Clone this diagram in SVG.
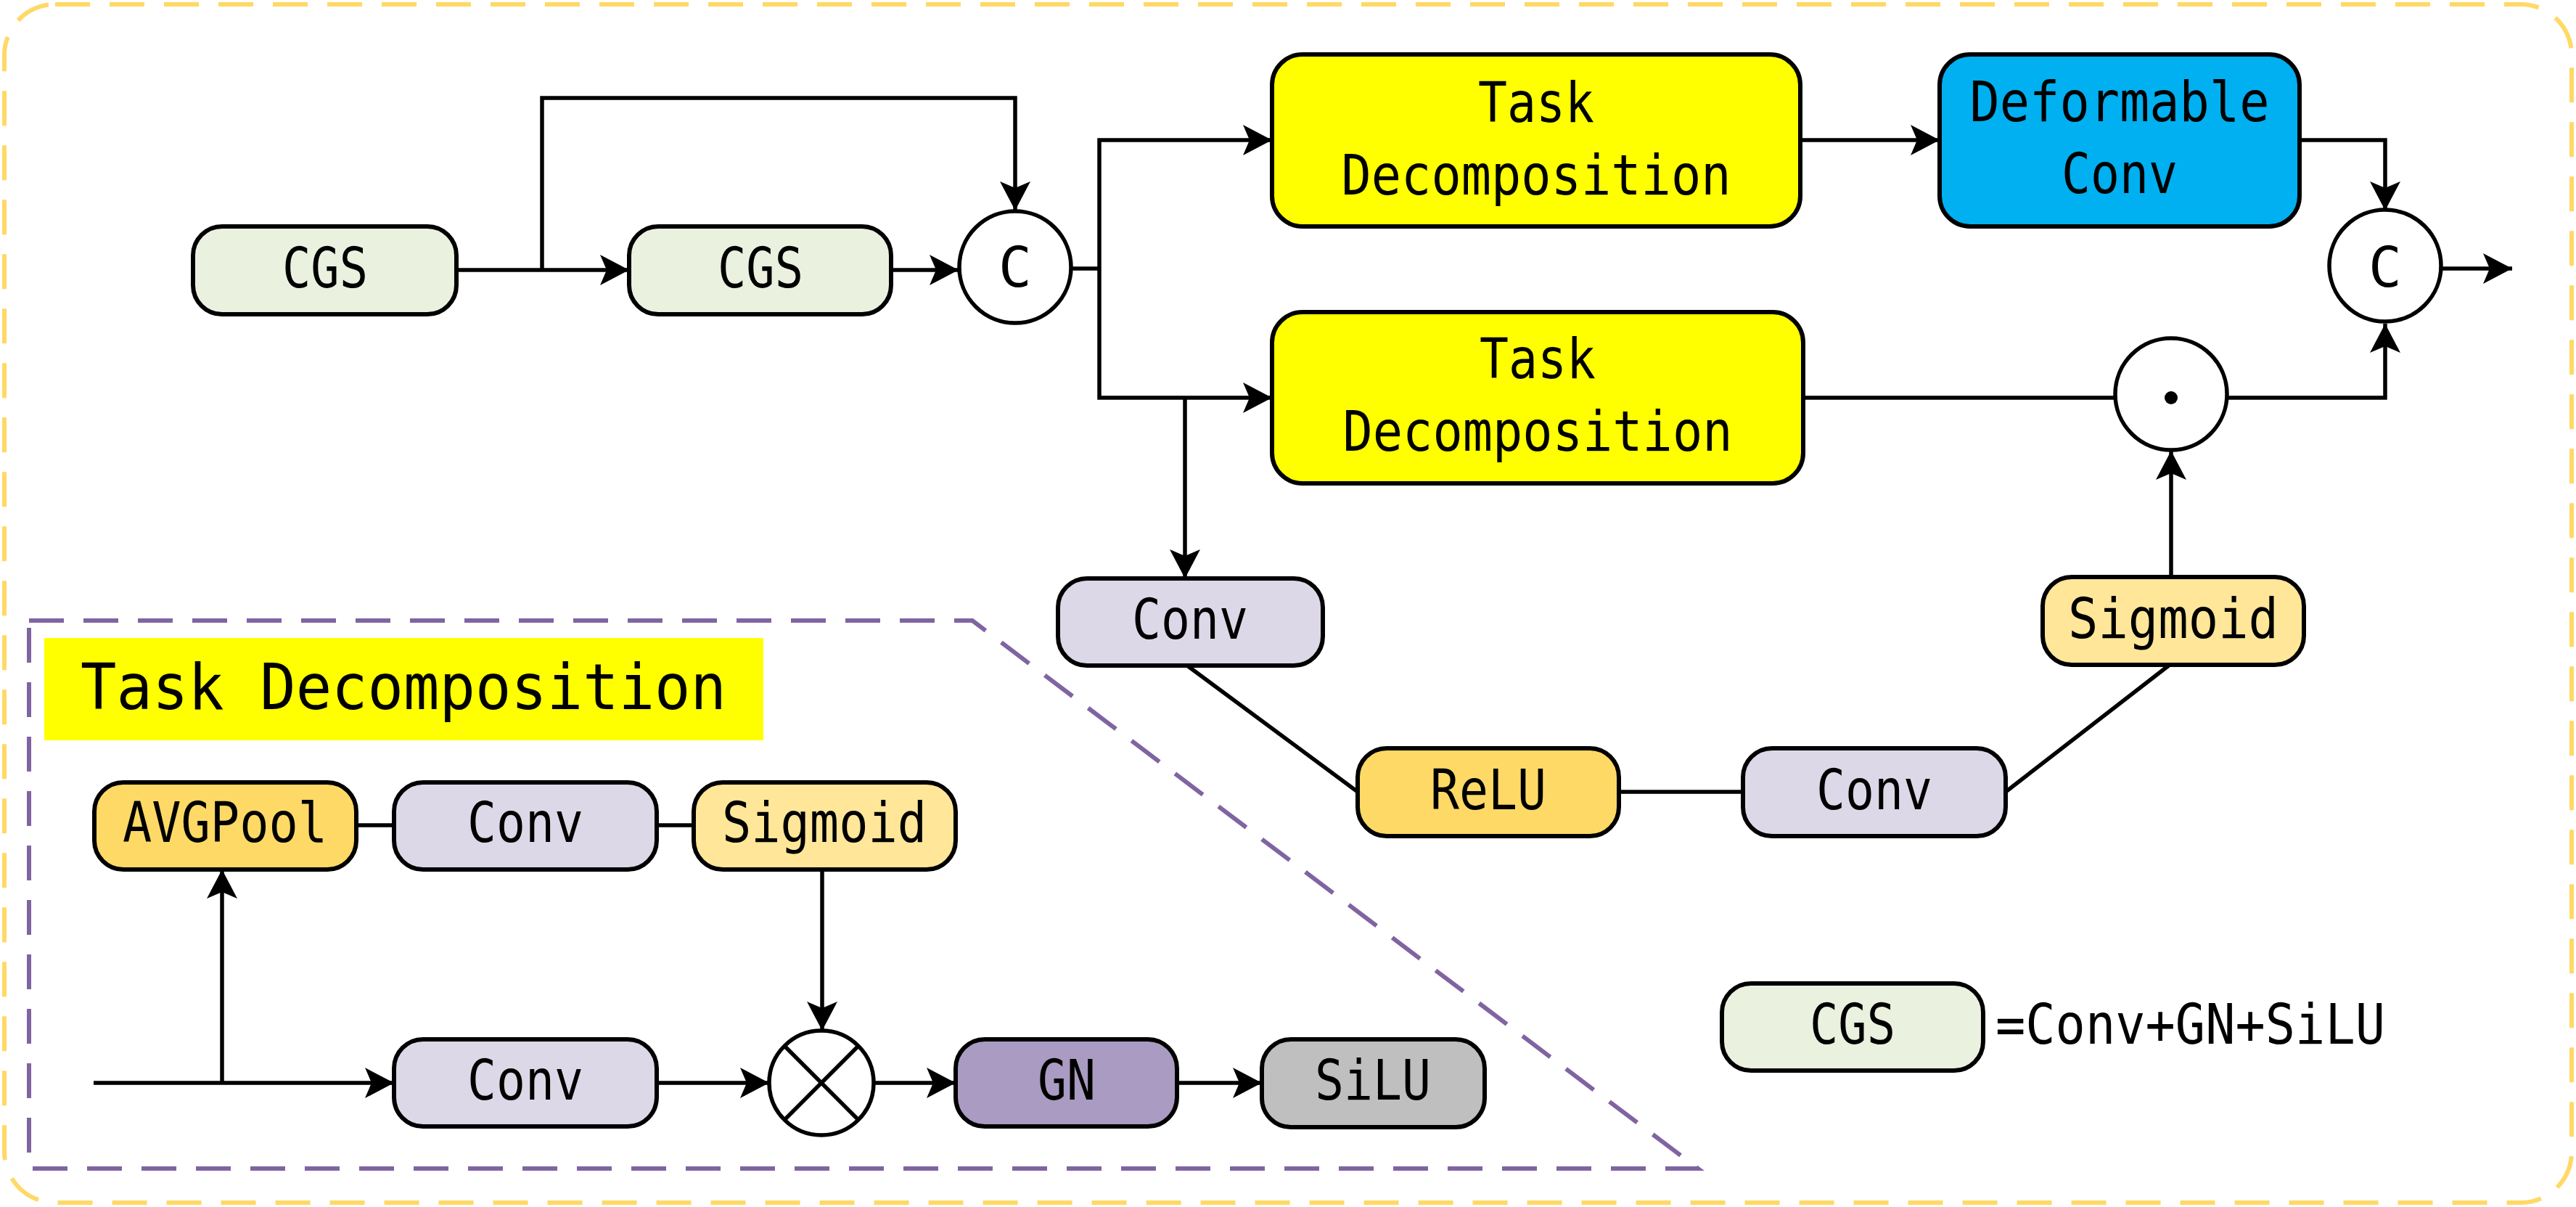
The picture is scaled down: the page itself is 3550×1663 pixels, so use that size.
<svg xmlns="http://www.w3.org/2000/svg" width="3550" height="1663" viewBox="0 0 3550 1663">
<style>
.box{stroke:#000;stroke-width:6}
.t{font-family:"DejaVu Sans Mono","Liberation Mono",monospace;font-size:76px;fill:#000;text-anchor:middle}
.ln{fill:none;stroke:#000;stroke-width:5.5}
.cg{fill:#EAF1DF}.td{fill:#FFFF00}.dc{fill:#00B0F0}.cv{fill:#DDD8E7}.re{fill:#FFD966}.sg{fill:#FFE699}.gn{fill:#A99BC1}.si{fill:#BFBFBF}
</style>
<defs>
<marker id="ar" markerUnits="userSpaceOnUse" markerWidth="44" markerHeight="46" viewBox="-2 -23 44 46" refX="40" refY="0" orient="auto">
<path d="M0,-21 L40,0 L0,21 L9,0 Z" fill="#000"/>
</marker>
</defs>
<rect x="6" y="6" width="3538" height="1651" rx="70" fill="#fff" stroke="#FFD966" stroke-width="6" stroke-dasharray="48 27"/>
<polygon points="40,855 1340,855 2340,1610 40,1610" fill="none" stroke="#8064A2" stroke-width="6" stroke-dasharray="48 27"/>
<g id="connectors">
<line class="ln" x1="629" y1="372" x2="867" y2="372" marker-end="url(#ar)"/>
<polyline class="ln" points="747,372 747,135 1399,135 1399,290" marker-end="url(#ar)"/>
<line class="ln" x1="1228" y1="372" x2="1321" y2="372" marker-end="url(#ar)"/>
<line class="ln" x1="1477" y1="370" x2="1515" y2="370"/>
<polyline class="ln" points="1515,370 1515,193 1753,193" marker-end="url(#ar)"/>
<polyline class="ln" points="1515,370 1515,548 1753,548" marker-end="url(#ar)"/>
<line class="ln" x1="1633" y1="548" x2="1633" y2="797" marker-end="url(#ar)"/>
<line class="ln" x1="2481" y1="193" x2="2673" y2="193" marker-end="url(#ar)"/>
<polyline class="ln" points="3169,193 3287,193 3287,290" marker-end="url(#ar)"/>
<line class="ln" x1="2485" y1="548" x2="2914" y2="548"/>
<polyline class="ln" points="3070,548 3287,548 3287,446" marker-end="url(#ar)"/>
<line class="ln" x1="3365" y1="370" x2="3462" y2="370" marker-end="url(#ar)"/>
<line class="ln" x1="2992" y1="795" x2="2992" y2="621" marker-end="url(#ar)"/>
<line class="ln" x1="1636" y1="917" x2="1871" y2="1091"/>
<line class="ln" x1="2231" y1="1091" x2="2402" y2="1091"/>
<line class="ln" x1="2764" y1="1091" x2="2990" y2="916"/>
<line class="ln" x1="129" y1="1492" x2="543" y2="1492" marker-end="url(#ar)"/>
<line class="ln" x1="306" y1="1492" x2="306" y2="1198" marker-end="url(#ar)"/>
<line class="ln" x1="491" y1="1137" x2="543" y2="1137"/>
<line class="ln" x1="905" y1="1137" x2="956" y2="1137"/>
<line class="ln" x1="1133" y1="1198" x2="1133" y2="1420" marker-end="url(#ar)"/>
<line class="ln" x1="905" y1="1492" x2="1060" y2="1492" marker-end="url(#ar)"/>
<line class="ln" x1="1204" y1="1492" x2="1317" y2="1492" marker-end="url(#ar)"/>
<line class="ln" x1="1622" y1="1492" x2="1739" y2="1492" marker-end="url(#ar)"/>
</g>
<g id="cgs1"><rect class="box cg" x="266" y="312" width="363" height="121" rx="40"/><text class="t" x="448" y="396" textLength="118" lengthAdjust="spacingAndGlyphs">CGS</text></g>
<g id="cgs2"><rect class="box cg" x="867" y="312" width="361" height="121" rx="40"/><text class="t" x="1048" y="396" textLength="118" lengthAdjust="spacingAndGlyphs">CGS</text></g>
<g id="concat1"><circle cx="1399" cy="368" r="77" fill="#fff" stroke="#000" stroke-width="5.5"/><text class="t" x="1399" y="395">C</text></g>
<g id="td1"><rect class="box td" x="1753" y="75" width="728" height="237" rx="42"/><text class="t" x="2117" y="168" textLength="160" lengthAdjust="spacingAndGlyphs">Task</text><text class="t" x="2117" y="268" textLength="537" lengthAdjust="spacingAndGlyphs">Decomposition</text></g>
<g id="td2"><rect class="box td" x="1753" y="430" width="732" height="236" rx="42"/><text class="t" x="2119" y="521" textLength="160" lengthAdjust="spacingAndGlyphs">Task</text><text class="t" x="2119" y="621" textLength="537" lengthAdjust="spacingAndGlyphs">Decomposition</text></g>
<g id="dconv"><rect class="box dc" x="2673" y="75" width="496" height="237" rx="42"/><text class="t" x="2921" y="167" textLength="413" lengthAdjust="spacingAndGlyphs">Deformable</text><text class="t" x="2921" y="266" textLength="160" lengthAdjust="spacingAndGlyphs">Conv</text></g>
<g id="concat2"><circle cx="3287" cy="366" r="77" fill="#fff" stroke="#000" stroke-width="5.5"/><text class="t" x="3287" y="395">C</text></g>
<g id="mul"><circle cx="2992" cy="543" r="77" fill="#fff" stroke="#000" stroke-width="5.5"/><circle cx="2992" cy="548" r="9" fill="#000"/></g>
<g id="conv1"><rect class="box cv" x="1458" y="797" width="365" height="120" rx="40"/><text class="t" x="1640" y="880" textLength="160" lengthAdjust="spacingAndGlyphs">Conv</text></g>
<g id="relu"><rect class="box re" x="1871" y="1031" width="360" height="121" rx="40"/><text class="t" x="2051" y="1115" textLength="160" lengthAdjust="spacingAndGlyphs">ReLU</text></g>
<g id="conv2"><rect class="box cv" x="2402" y="1031" width="362" height="121" rx="40"/><text class="t" x="2583" y="1115" textLength="160" lengthAdjust="spacingAndGlyphs">Conv</text></g>
<g id="sigmoid1"><rect class="box sg" x="2815" y="795" width="360" height="121" rx="40"/><text class="t" x="2995" y="879" textLength="290" lengthAdjust="spacingAndGlyphs">Sigmoid</text></g>
<g id="legend"><rect class="box cg" x="2373" y="1355" width="360" height="120" rx="40"/><text class="t" x="2553" y="1438" textLength="118" lengthAdjust="spacingAndGlyphs">CGS</text><text class="t" x="2750" y="1438" style="text-anchor:start" textLength="537" lengthAdjust="spacingAndGlyphs">=Conv+GN+SiLU</text></g>
<g id="title"><rect x="61" y="879" width="991" height="141" fill="#FFFF00"/><text class="t" x="111" y="977" style="text-anchor:start;font-size:88px" textLength="890" lengthAdjust="spacingAndGlyphs">Task Decomposition</text></g>
<g id="avgpool"><rect class="box re" x="130" y="1078" width="361" height="120" rx="40"/><text class="t" x="310" y="1160" textLength="282" lengthAdjust="spacingAndGlyphs">AVGPool</text></g>
<g id="conv3"><rect class="box cv" x="543" y="1078" width="362" height="120" rx="40"/><text class="t" x="724" y="1160" textLength="160" lengthAdjust="spacingAndGlyphs">Conv</text></g>
<g id="sigmoid2"><rect class="box sg" x="956" y="1078" width="361" height="120" rx="40"/><text class="t" x="1136" y="1160" textLength="282" lengthAdjust="spacingAndGlyphs">Sigmoid</text></g>
<g id="conv4"><rect class="box cv" x="543" y="1432" width="362" height="120" rx="40"/><text class="t" x="724" y="1515" textLength="160" lengthAdjust="spacingAndGlyphs">Conv</text></g>
<g id="otimes"><circle cx="1132" cy="1492" r="72" fill="#fff" stroke="#000" stroke-width="5.5"/><line class="ln" x1="1081" y1="1441" x2="1183" y2="1543"/><line class="ln" x1="1183" y1="1441" x2="1081" y2="1543"/></g>
<g id="gn"><rect class="box gn" x="1317" y="1432" width="305" height="120" rx="40"/><text class="t" x="1470" y="1515" textLength="80" lengthAdjust="spacingAndGlyphs">GN</text></g>
<g id="silu"><rect class="box si" x="1739" y="1432" width="307" height="121" rx="40"/><text class="t" x="1892" y="1515" textLength="160" lengthAdjust="spacingAndGlyphs">SiLU</text></g>
</svg>
